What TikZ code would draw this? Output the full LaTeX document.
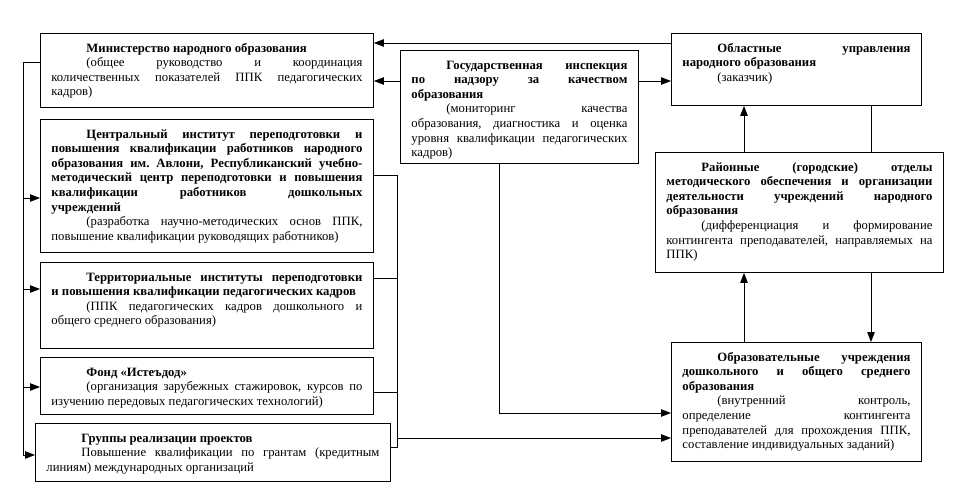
\documentclass[tikz,border=0pt]{standalone}
\usepackage{fontspec}
\setmainfont{Liberation Serif}
\usetikzlibrary{arrows.meta}
\tikzset{
  bx/.style={draw, line width=0.9pt, anchor=north west, inner xsep=11pt, inner ysep=0pt,
    font=\fontsize{12.7}{14.6}\selectfont},
  ln/.style={line width=0.9pt},
  arr/.style={line width=0.9pt, -{Triangle[length=10pt,width=7.5pt]}},
}
\newcommand\bxt[4]{\begin{minipage}[t][#2][t]{#1}\frenchspacing\setlength\parindent{35pt}\tolerance=10000 \hyphenpenalty=10000 \exhyphenpenalty=10000 \vspace*{8.5pt}{\bfseries\strut #3\par}\strut #4\par\end{minipage}}
\begin{document}
\begin{tikzpicture}[x=1pt,y=-1pt]
\useasboundingbox (0,0) rectangle (953,490);
% left column
\node[bx] (min) at (40,33) {\bxt{311pt}{74pt}{Министерство народного образования}{(общее руководство и координация\linebreak количественных показателей ППК педагогических\linebreak кадров)}};
\node[bx] (cen) at (40,119) {\bxt{311pt}{133pt}{Центральный институт переподготовки и\linebreak повышения квалификации работников народного\linebreak образования им. Авлони, Республиканский учебно-\linebreak{}методический центр переподготовки и повышения\linebreak квалификации работников дошкольных\linebreak учреждений}{(разработка научно-методических основ ППК,\linebreak повышение квалификации руководящих работников)}};
\node[bx] (ter) at (40,262) {\bxt{311pt}{86pt}{Территориальные институты переподготовки\linebreak и повышения квалификации педагогических кадров}{(ППК педагогических кадров дошкольного и\linebreak общего среднего образования)}};
\node[bx] (fond) at (40,357) {\bxt{311pt}{57pt}{Фонд «Истеъдод»}{(организация зарубежных стажировок, курсов по\linebreak изучению передовых педагогических технологий)}};
\node[bx] (grp) at (35,423) {\bxt{333pt}{58pt}{Группы реализации проектов}{Повышение квалификации по грантам (кредитным\linebreak линиям) международных организаций}};
% middle
\node[bx] (gos) at (400,50) {\bxt{216pt}{113pt}{Государственная инспекция\linebreak по надзору за качеством\linebreak образования}{(мониторинг качества\linebreak образования, диагностика и оценка\linebreak уровня квалификации педагогических\linebreak кадров)}};
% right column
\node[bx] (obl) at (671,33) {\bxt{228pt}{72pt}{Областные управления\linebreak народного образования}{(заказчик)}};
\node[bx] (ray) at (655,152) {\bxt{266pt}{120pt}{Районные (городские) отделы\linebreak методического обеспечения и организации\linebreak деятельности учреждений народного\linebreak образования}{(дифференциация и формирование\linebreak контингента преподавателей, направляемых на\linebreak ППК)}};
\node[bx] (obr) at (671,342) {\bxt{228pt}{119pt}{Образовательные учреждения\linebreak дошкольного и общего среднего\linebreak образования}{(внутренний контроль,\linebreak определение контингента\linebreak преподавателей для прохождения ППК,\linebreak составление индивидуальных заданий)}};
% left bus
\coordinate (lb) at (23,62);
\coordinate (lbe) at (23,455);
\draw[ln] (min.west |- lb) -- (lb) -- (lbe);
\draw[arr] (lb |- 0,198) -- (cen.west |- 0,198);
\draw[arr] (lb |- 0,289) -- (ter.west |- 0,289);
\draw[arr] (lb |- 0,387) -- (fond.west |- 0,387);
\draw[arr] (lbe) -- (grp.west |- lbe);
% right bus
\coordinate (rb) at (397,175);
\coordinate (rbe) at (397,447);
\draw[ln] (cen.east |- rb) -- (rb) -- (rbe) -- (grp.east |- rbe);
\draw[ln] (ter.east |- 0,278) -- (rb |- 0,278);
\draw[ln] (fond.east |- 0,392) -- (rb |- 0,392);
\draw[arr] (rb |- 0,438) -- (obr.west |- 0,438);
% top connectors
\draw[arr] (obl.west |- 0,43) -- (min.east |- 0,43);
\draw[arr] (gos.west |- 0,81) -- (min.east |- 0,81);
\draw[arr] (gos.east |- 0,81) -- (obl.west |- 0,81);
\draw[arr] (gos.south -| 499,0) |- (obr.west |- 0,413);
% right verticals
\draw[arr] (ray.north -| 744,0) -- (obl.south -| 744,0);
\draw[ln] (obl.south -| 871,0) -- (ray.north -| 871,0);
\draw[arr] (ray.south -| 871,0) -- (obr.north -| 871,0);
\draw[arr] (obr.north -| 744,0) -- (ray.south -| 744,0);
\end{tikzpicture}
\end{document}
